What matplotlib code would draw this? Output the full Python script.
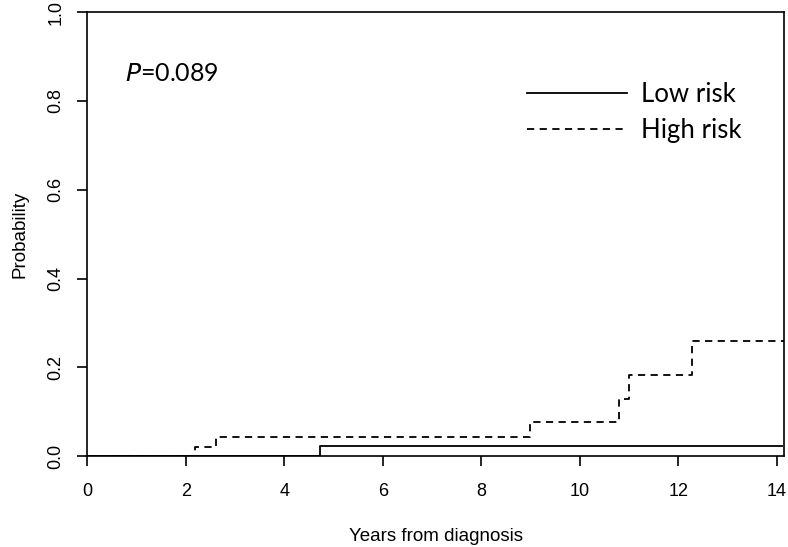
import matplotlib
matplotlib.use("Agg")
import matplotlib.pyplot as plt

# step curves (cumulative incidence)
low_t = [0, 4.72, 14.11]
low_p = [0, 0.024, 0.024]

high_t = [2.18, 2.62, 8.99, 10.8, 11.0, 12.29, 14.15]
high_p = [0.021, 0.043, 0.078, 0.129, 0.182, 0.259, 0.259]

p_text = "0.089"
xticks = [0, 2, 4, 6, 8, 10, 12, 14]
yticks = [0.0, 0.2, 0.4, 0.6, 0.8, 1.0]

fig = plt.figure(figsize=(7.88, 5.47), dpi=100)
ax = fig.add_axes([0.111, 0.166, 0.884, 0.812])

ax.step(low_t, low_p, where="post", color="black", lw=1.3, label="Low risk")
ax.step([0] + high_t, [0] + high_p, where="post", color="black", lw=1.3,
        linestyle=(0, (4, 3)), label="High risk")

ax.set_xlim(0, 14.15)
ax.set_ylim(0, 1.0)
ax.set_xticks(xticks)
ax.set_yticks(yticks)
ax.set_xticklabels([str(x) for x in xticks], fontsize=13, family="Liberation Sans")
ax.set_yticklabels([f"{y:.1f}" for y in yticks], fontsize=13, family="Liberation Sans",
                   rotation=90, va="center")
ax.tick_params(direction="out", length=7.5, width=1.2)
ax.tick_params(axis="x", pad=12)
ax.tick_params(axis="y", pad=9)
for s in ax.spines.values():
    s.set_linewidth(1.2)

ax.set_xlabel("Years from diagnosis", fontsize=13.5, family="Liberation Sans", labelpad=20)
ax.set_ylabel("Probability", fontsize=13.5, family="Liberation Sans", labelpad=14)

ax.text(0.76, 0.862, "$\\mathit{P}$=" + p_text, fontsize=18, family="Lato",
        va="center", ha="left")

leg = ax.legend(loc="upper left", bbox_to_anchor=(0.598, 0.894), frameon=False,
                handlelength=3.9, handletextpad=0.55, labelspacing=0.4,
                prop={"family": "Lato", "size": 18.5})

fig.savefig("out.png", dpi=100)
